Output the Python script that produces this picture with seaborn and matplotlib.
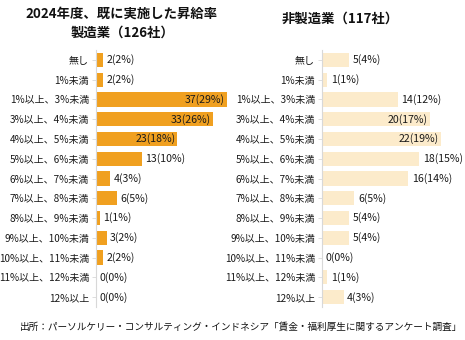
import matplotlib
matplotlib.use("Agg")
import matplotlib.pyplot as plt
import seaborn as sns
import pandas as pd

sns.set_theme(style="white")
plt.rcParams['font.family'] = ['Noto Sans CJK JP', 'DejaVu Sans']

categories = ["無し", "1%未満", "1%以上、3%未満", "3%以上、4%未満", "4%以上、5%未満",
              "5%以上、6%未満", "6%以上、7%未満", "7%以上、8%未満", "8%以上、9%未満",
              "9%以上、10%未満", "10%以上、11%未満", "11%以上、12%未満", "12%以上"]
mfg_counts = [2, 2, 37, 33, 23, 13, 4, 6, 1, 3, 2, 0, 0]
mfg_pct = [2, 2, 29, 26, 18, 10, 3, 5, 1, 2, 2, 0, 0]
nonmfg_counts = [5, 1, 14, 20, 22, 18, 16, 6, 5, 5, 0, 1, 4]
nonmfg_pct = [4, 1, 12, 17, 19, 15, 14, 5, 4, 4, 0, 1, 3]

title_left = "2024年度、既に実施した昇給率\n製造業（126社）"
title_right = "非製造業（117社）"
source = "出所：パーソルケリー・コンサルティング・インドネシア「賃金・福利厚生に関する" \
         "アンケート調査」"

W, H = 465, 340
fig = plt.figure(figsize=(W / 100, H / 100), dpi=100)

top_px, bot_px = 50, 307


def panel(x0, x1, counts, pct, color, xmax):
    ax = fig.add_axes([x0 / W, 1 - bot_px / H, (x1 - x0) / W, (bot_px - top_px) / H])
    df = pd.DataFrame({"cat": categories, "val": counts})
    sns.barplot(data=df, x="val", y="cat", color=color, saturation=1,
                width=0.72, ax=ax, edgecolor="none")
    ax.set_xlim(0, xmax)
    ax.set_ylim(len(categories) - 0.5, -0.5)
    for s in ["top", "right", "bottom"]:
        ax.spines[s].set_visible(False)
    ax.spines["left"].set_color("#d8d8d8")
    ax.spines["left"].set_linewidth(0.8)
    ax.set_xticks([])
    ax.set_xlabel("")
    ax.set_ylabel("")
    ax.tick_params(axis="y", length=3, width=0.6, color="#d8d8d8", pad=2,
                   labelsize=7.2, labelcolor="#1a1a1a", left=True)
    # value labels: inside the bar for large values, outside otherwise
    px_per_unit = (x1 - x0) / xmax
    for i, (c, p) in enumerate(zip(counts, pct)):
        txt = f"{c}({p}%)"
        if c >= 20:
            ax.text(c - 2 / px_per_unit, i, txt, ha="right", va="center",
                    fontsize=7.6, color="#1a1a1a")
        else:
            ax.text(c + 3.5 / px_per_unit, i, txt, ha="left", va="center",
                    fontsize=7.6, color="#1a1a1a")
    return ax


panel(96, 232, mfg_counts, mfg_pct, "#F0A020", 38.4)
panel(322, 462, nonmfg_counts, nonmfg_pct, "#FCEBCB", 25.9)

fig.text(122 / W, 1 - 23 / H, title_left, ha="center", va="center",
         fontsize=9.6, fontweight="bold", color="#111111", linespacing=1.4)
fig.text(340 / W, 1 - 19 / H, title_right, ha="center", va="center",
         fontsize=9.6, fontweight="bold", color="#111111")
fig.text(241 / W, 1 - 327 / H, source, ha="center", va="center",
         fontsize=6.95, color="#111111")

fig.savefig("out.png", dpi=100)
